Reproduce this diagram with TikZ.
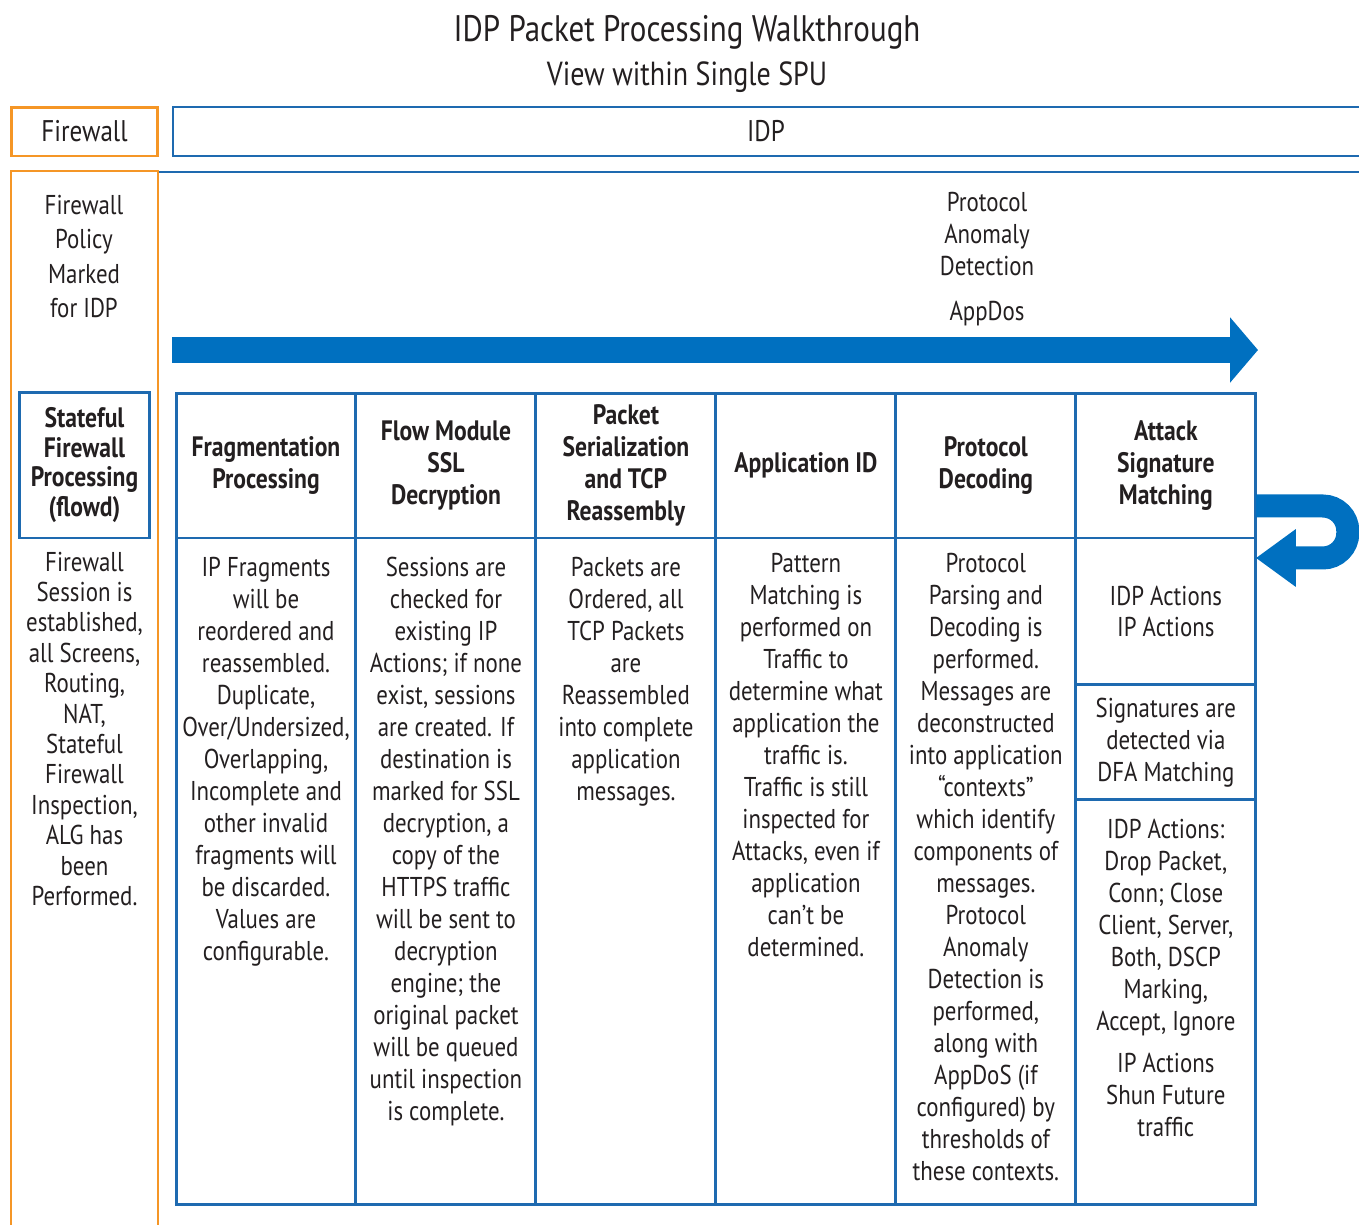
\documentclass[tikz,border=0pt]{standalone}
\usepackage{fontspec}
\setmainfont[FakeStretch=0.84]{PT Sans}
\usepackage{tikz}
\usetikzlibrary{arrows.meta,positioning,calc}
\definecolor{idpblue}{RGB}{0,112,192}
\definecolor{idpline}{RGB}{30,106,176}
\definecolor{fworange}{RGB}{245,150,38}
\definecolor{idpink}{RGB}{35,31,32}
\tikzset{
  colhead/.style={draw=idpline, line width=1.7pt, outer sep=0pt, inner sep=0pt,
    minimum width=3.6cm, minimum height=2.9cm, align=center,
    font=\fontsize{16}{18.2}\selectfont\bfseries},
  colbody/.style={draw=idpline, line width=1.7pt, outer sep=0pt, inner sep=0pt,
    minimum width=3.6cm},
  bodytext/.style={align=center, inner sep=0pt, font=\fontsize{15.5}{18.2}\selectfont},
  fwtext/.style={align=center, inner sep=0pt, font=\fontsize{15.5}{17.3}\selectfont},
  fwframe/.style={draw=fworange, line width=1.7pt},
  idpframe/.style={draw=idpline, line width=1.7pt},
  bigflow/.style={-{Triangle[length=0.56cm,width=1.28cm]}, line width=0.52cm, draw=idpblue},
  loopflow/.style={-{Triangle[length=0.8cm,width=1.1cm]}, line width=0.46cm, draw=idpblue,
    rounded corners=0.5cm}
}
\begin{document}
\begin{tikzpicture}[x=0.02cm, y=-0.02cm, node distance=0pt, text=idpink]
\useasboundingbox (0,0) rectangle (1359,1224);
\node[font=\fontsize{21}{24}\selectfont] (title) at (687,32) {IDP Packet Processing Walkthrough};
\node[font=\fontsize{19}{22}\selectfont] (subtitle) at (687,77) {View within Single SPU};

\node[fwframe, outer sep=0pt, minimum width=2.94cm, minimum height=0.98cm,
  font=\fontsize{17}{20}\selectfont] (fwhead) at (84.5,131.5) {Firewall};
\draw[idpframe] (1370,107) -| (173,156) -- (1370,156);
\node[font=\fontsize{17}{20}\selectfont] (idphead) at (766,131.5) {IDP};
\draw[idpframe] (158,172) -- (1370,172);
\draw[fwframe] (11,1240) |- (158,171) -- (158,1240);

\node[fwtext, font=\fontsize{15.5}{19.4}\selectfont] (marked) at (84,256.5) {Firewall\\Policy\\Marked\\for IDP};
\node[idpframe, outer sep=0pt, inner sep=0pt, minimum width=2.62cm, minimum height=2.92cm, align=center,
  font=\fontsize{16}{17}\selectfont\bfseries] (stateful) at (84.5,465) {Stateful\\Firewall\\Processing\\(flowd)};
\node[fwtext, below=0.27cm of stateful.south] (session) {Firewall\\Session is\\established,\\all Screens,\\Routing,\\NAT,\\Stateful\\Firewall\\Inspection,\\ALG has\\been\\Performed.};

\node[bodytext] (anomaly) at (987,234) {Protocol\\Anomaly\\Detection};
\node[bodytext] (appdos) at (987,314) {AppDos};
\coordinate (flowtail) at (172,350);
\coordinate (flowtip) at (1258,350);
\draw[bigflow] (flowtail) -- (flowtip);

\node[colhead] (frag) at (266,465.5) {Fragmentation\\Processing};
\node[colhead, right=of frag] (ssl) {Flow Module\\SSL\\Decryption};
\node[colhead, right=of ssl] (tcp) {Packet\\Serialization\\and TCP\\Reassembly};
\node[colhead, right=of tcp] (appid) {Application ID};
\node[colhead, right=of appid] (decode) {Protocol\\Decoding};
\node[colhead, right=of decode] (attack) {Attack\\Signature\\Matching};

\foreach \col in {frag,ssl,tcp,appid,decode}
  \node[colbody, minimum height=13.34cm, below=of \col] (\col b) {};
\node[colbody, bodytext, minimum height=2.94cm, below=of attack] (actions) {IDP Actions\\IP Actions};
\node[colbody, bodytext, minimum height=2.3cm, below=of actions] (dfa) {Signatures are\\detected via\\DFA Matching};
\node[colbody, minimum height=8.1cm, below=of dfa] (verdict) {};

\node[bodytext, below=0.38cm of fragb.north] (fragtxt) {IP Fragments\\will be\\reordered and\\reassembled.\\Duplicate,\\Over/Undersized,\\Overlapping,\\Incomplete and\\other invalid\\fragments will\\be discarded.\\Values are\\configurable.};
\node[bodytext, below=0.38cm of sslb.north] (ssltxt) {Sessions are\\checked for\\existing IP\\Actions; if none\\exist, sessions\\are created. If\\destination is\\marked for SSL\\decryption, a\\copy of the\\HTTPS traffic\\will be sent to\\decryption\\engine; the\\original packet\\will be queued\\until inspection\\is complete.};
\node[bodytext, below=0.38cm of tcpb.north] (tcptxt) {Packets are\\Ordered, all\\TCP Packets\\are\\Reassembled\\into complete\\application\\messages.};
\node[bodytext, below=0.30cm of appidb.north] (appidtxt) {Pattern\\Matching is\\performed on\\Traffic to\\determine what\\application the\\traffic is.\\Traffic is still\\inspected for\\Attacks, even if\\application\\can’t be\\determined.};
\node[bodytext, below=0.30cm of decodeb.north] (decodetxt) {Protocol\\Parsing and\\Decoding is\\performed.\\Messages are\\deconstructed\\into application\\“contexts”\\which identify\\components of\\messages.\\Protocol\\Anomaly\\Detection is\\performed,\\along with\\AppDoS (if\\configured) by\\thresholds of\\these contexts.};
\node[bodytext, below=0.37cm of verdict.north] (verdicttxt) {IDP Actions:\\Drop Packet,\\Conn; Close\\Client, Server,\\Both, DSCP\\Marking,\\Accept, Ignore\\[6pt]IP Actions\\Shun Future\\traffic};

\draw[loopflow] ($(attack.south east)+(0,-32)$) -- ++(92,0) |- ($(actions.north east)+(0,20)$);
\end{tikzpicture}
\end{document}
